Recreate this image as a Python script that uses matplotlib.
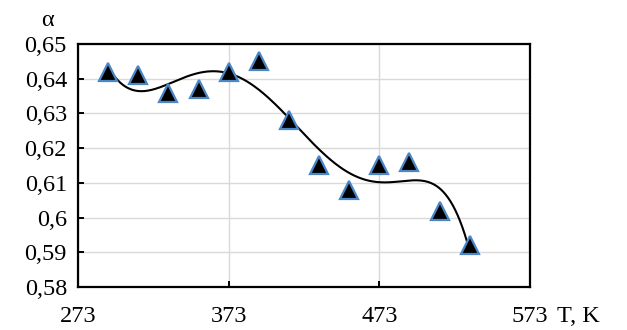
import matplotlib
matplotlib.use("Agg")
import matplotlib.pyplot as plt
import numpy as np

# measured points
temps = [293, 313, 333, 353, 373, 393, 413, 433, 453, 473, 493, 513, 533]
alpha = [0.642, 0.641, 0.636, 0.637, 0.642, 0.645, 0.628, 0.615, 0.608, 0.615, 0.616, 0.602, 0.592]

x_ticks = [273, 373, 473, 573]
y_ticks = [0.58, 0.59, 0.60, 0.61, 0.62, 0.63, 0.64, 0.65]
y_labels = ["0,58", "0,59", "0,6", "0,61", "0,62", "0,63", "0,64", "0,65"]

plt.rcParams["font.family"] = ["Liberation Serif", "DejaVu Serif"]

fig = plt.figure(figsize=(6.27, 3.30), dpi=100)
ax = fig.add_axes([0.1244, 0.1303, 0.7209, 0.7364])

# polynomial trendline (like the spreadsheet one)
coef = np.polyfit(np.array(temps, float) - 413, alpha, 6)
tt = np.linspace(temps[0], temps[-1], 300)
ax.plot(tt, np.polyval(coef, tt - 413), color="black", lw=1.5, zorder=2)

ax.plot(temps, alpha, linestyle="none", marker="^", ms=13,
        markerfacecolor="black", markeredgecolor="#4a86c8", markeredgewidth=1.6, zorder=3)

ax.set_xlim(273, 573)
ax.set_ylim(0.58, 0.65)
ax.set_xticks(x_ticks)
ax.set_xticklabels([str(t) for t in x_ticks])
ax.set_yticks(y_ticks)
ax.set_yticklabels(y_labels)
ax.grid(True, color="#d9d9d9", lw=1)
ax.set_axisbelow(True)
for s in ax.spines.values():
    s.set_linewidth(1.6)
ax.tick_params(direction="in", length=4.5, width=1.4, labelsize=17.5, pad=8)
ax.tick_params(axis="x", pad=14)

fig.text(47 / 627, 1 - 20 / 330, "α", fontsize=17.5, ha="center", va="center")
fig.text(557 / 627, 1 - 316 / 330, "T, K", fontsize=17.5, ha="left", va="center")

fig.savefig("out.png", dpi=100, facecolor="white")
